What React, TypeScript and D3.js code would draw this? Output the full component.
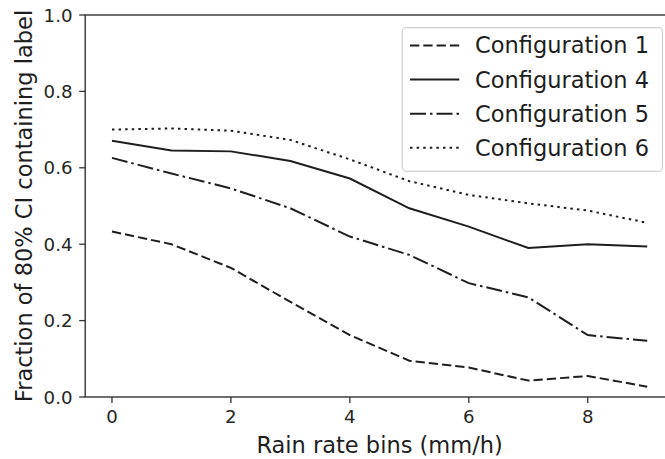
import React from "react";
import * as d3 from "d3";

const bins = [0, 1, 2, 3, 4, 5, 6, 7, 8, 9];
const config1 = [0.433, 0.4, 0.338, 0.249, 0.162, 0.095, 0.077, 0.043, 0.055, 0.027];
const config4 = [0.671, 0.645, 0.643, 0.618, 0.572, 0.494, 0.446, 0.39, 0.4, 0.394];
const config5 = [0.626, 0.585, 0.546, 0.494, 0.42, 0.372, 0.298, 0.261, 0.162, 0.147];
const config6 = [0.7, 0.703, 0.697, 0.673, 0.622, 0.565, 0.529, 0.507, 0.488, 0.456];
const seriesNames = ["Configuration 1", "Configuration 4", "Configuration 5", "Configuration 6"];
const xTicks = [0, 2, 4, 6, 8];
const yTicks = [0, 0.2, 0.4, 0.6, 0.8, 1.0];

const W = 665;
const H = 459;
const FONT = "DejaVu Sans";
const INK = "#1e1e1e";
const SPINE = "#333";

export default function App() {
  const x = d3.scaleLinear().domain([-0.45, 9.45]).range([85.2, 674]);
  const y = d3.scaleLinear().domain([0, 1]).range([397, 15]);
  const allSeries = [config1, config4, config5, config6];
  const dashes = ["9.3,4", "", "16,4,2.5,4", "2.5,4.1"];
  const line = d3
    .line<number>()
    .x((_, i) => x(bins[i]))
    .y((d) => y(d));

  const legendRowY = [45.5, 79.6, 113.7, 147.8];

  return (
    <svg
      width={W}
      height={H}
      style={{ position: "absolute", left: 0, top: 0, background: "#fff" }}
      fontFamily={FONT}
    >
      <rect x={0} y={0} width={W} height={H} fill="#fff" />
      {allSeries.map((s, k) => (
        <path
          key={k}
          d={line(s) || ""}
          fill="none"
          stroke={INK}
          strokeWidth={2}
          strokeDasharray={dashes[k] || undefined}
        />
      ))}
      {/* spines */}
      <rect
        x={x(-0.45)}
        y={y(1)}
        width={x(9.45) - x(-0.45)}
        height={y(0) - y(1)}
        fill="none"
        stroke={SPINE}
        strokeWidth={1.4}
      />
      {/* y ticks */}
      {yTicks.map((t) => (
        <g key={t}>
          <line x1={x(-0.45) - 6} x2={x(-0.45)} y1={y(t)} y2={y(t)} stroke={SPINE} strokeWidth={1.3} />
          <text x={72.5} y={y(t) + 6.6} textAnchor="end" fontSize={18.2} fill="#262626">
            {t.toFixed(1)}
          </text>
        </g>
      ))}
      {/* x ticks */}
      {xTicks.map((t) => (
        <g key={t}>
          <line x1={x(t)} x2={x(t)} y1={y(0)} y2={y(0) + 6} stroke={SPINE} strokeWidth={1.3} />
          <text x={x(t)} y={423.3} textAnchor="middle" fontSize={18.2} fill="#262626">
            {t}
          </text>
        </g>
      ))}
      <text x={(x(-0.45) + x(9.45)) / 2} y={453} textAnchor="middle" fontSize={22.5} fill={INK}>
        Rain rate bins (mm/h)
      </text>
      <text
        transform={`translate(31.7, ${(y(0) + y(1)) / 2}) rotate(-90)`}
        textAnchor="middle"
        fontSize={22.5}
        fill={INK}
      >
        Fraction of 80% CI containing label
      </text>
      {/* legend */}
      <rect
        x={402.3}
        y={27.7}
        width={260.2}
        height={143.6}
        rx={4}
        fill="#fff"
        fillOpacity={0.8}
        stroke="#d0d0d0"
        strokeWidth={1.2}
      />
      {seriesNames.map((name, k) => (
        <g key={name}>
          <line
            x1={410}
            x2={459.3}
            y1={legendRowY[k]}
            y2={legendRowY[k]}
            stroke={INK}
            strokeWidth={2}
            strokeDasharray={dashes[k] || undefined}
          />
          <text x={475} y={legendRowY[k] + 7.9} fontSize={22.5} fill={INK}>
            {name}
          </text>
        </g>
      ))}
    </svg>
  );
}
